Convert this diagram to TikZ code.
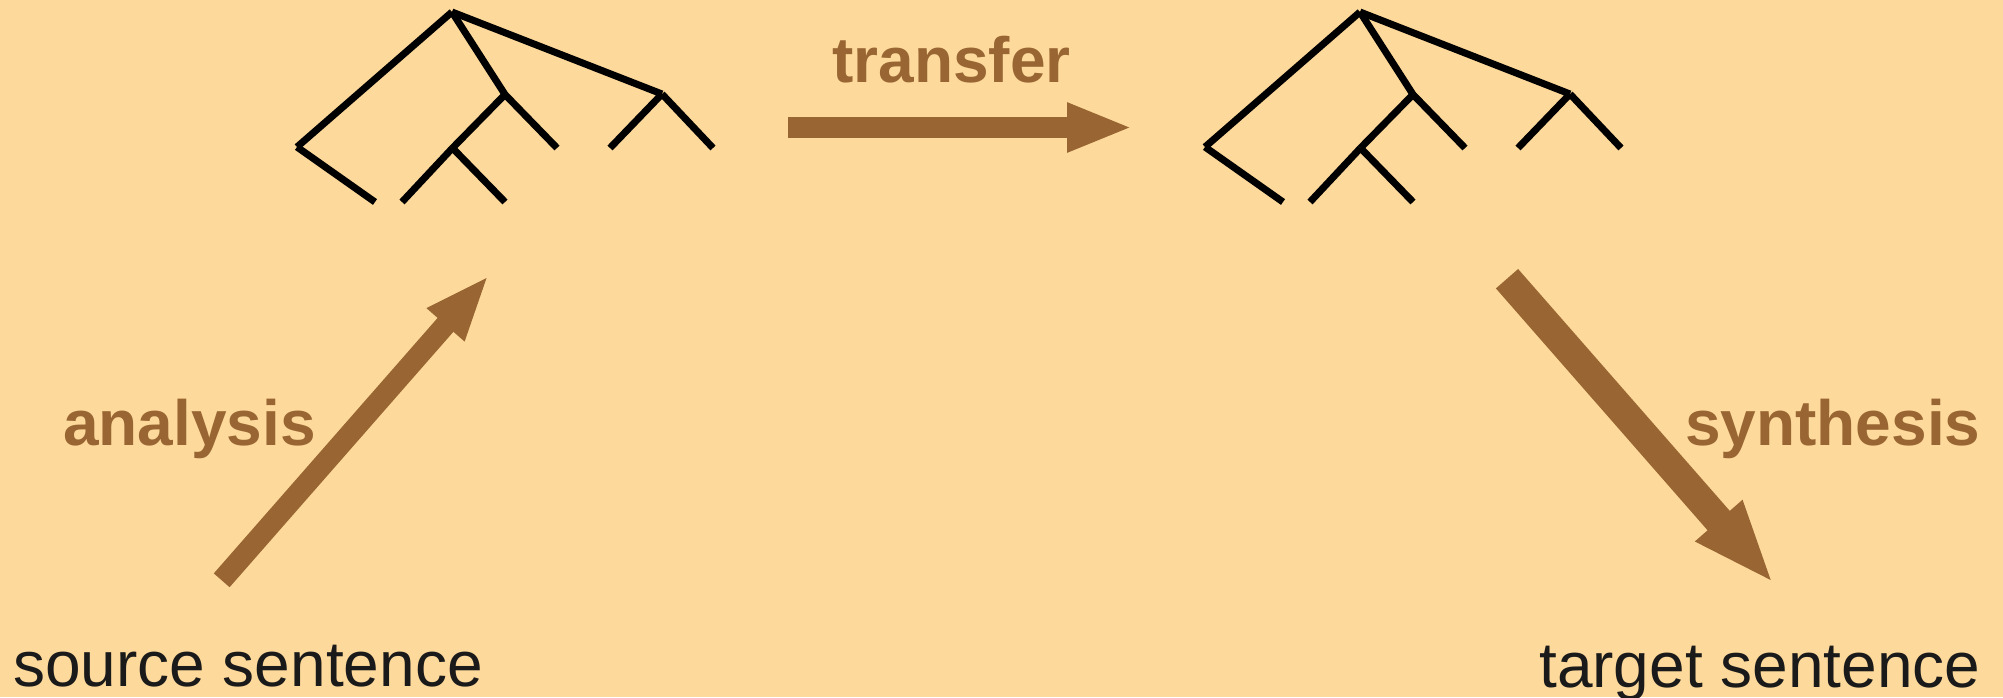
\documentclass[tikz,border=0pt]{standalone}
\usepackage{fontspec}
\setmainfont{Liberation Sans}
\usetikzlibrary{arrows.meta}
\definecolor{bg}{HTML}{FDD99B}
\definecolor{brown}{HTML}{996633}
\definecolor{ink}{HTML}{1A1A1A}
\tikzset{
  treeline/.style={draw=black, line width=7pt, line cap=butt},
  bigarrow/.style={draw=brown, line width=21pt, line cap=butt,
    -{Triangle[length=66pt, width=45pt]}},
  biggerarrow/.style={draw=brown, line width=29.5pt, line cap=butt,
    -{Triangle[length=84pt, width=56pt]}},
  sent/.style={inner sep=0pt, text=ink, font=\fontsize{64}{76}\selectfont},
  lbl/.style={inner sep=0pt, text=brown, font=\fontsize{64}{76}\selectfont\bfseries},
}
\newcommand\mktree[2]{%
  \begin{scope}[xshift=#2pt]
  \coordinate (#1r)  at (452,12);
  \coordinate (#1lc) at (297,147);
  \coordinate (#1l1) at (375,202);
  \coordinate (#1m)  at (505,94.5);
  \coordinate (#1ml) at (452.5,148);
  \coordinate (#1l2) at (402,202);
  \coordinate (#1l3) at (505,202);
  \coordinate (#1l4) at (557,148);
  \coordinate (#1rn) at (662,94);
  \coordinate (#1l5) at (610,148);
  \coordinate (#1l6) at (713,148);
  \end{scope}
  \draw[treeline] (#1r) -- (#1lc);
  \draw[treeline] (#1lc) -- (#1l1);
  \draw[treeline] (#1r) -- (#1m);
  \draw[treeline] (#1m) -- (#1ml);
  \draw[treeline] (#1ml) -- (#1l2);
  \draw[treeline] (#1ml) -- (#1l3);
  \draw[treeline] (#1m) -- (#1l4);
  \draw[treeline] (#1r) -- (#1rn);
  \draw[treeline] (#1rn) -- (#1l5);
  \draw[treeline] (#1rn) -- (#1l6);
}
\begin{document}
\begin{tikzpicture}[x=1pt, y=-1pt]
  \fill[bg] (0,0) rectangle (2003,697);
  \useasboundingbox (0,0) rectangle (2003,697);

  \mktree{a}{0}
  \mktree{b}{908}

  % arrows
  \coordinate (tfrom) at (788,127.5);
  \coordinate (tto)   at (1133,127.5);
  \coordinate (afrom) at (221.7,580.3);
  \coordinate (ato)   at (489,275.2);
  \coordinate (sfrom) at (1507,278.7);
  \coordinate (sto)   at (1774,583.8);
  \draw[bigarrow] (tfrom) -- (tto);
  \draw[bigarrow] (afrom) -- (ato);
  \draw[biggerarrow] (sfrom) -- (sto);

  % labels
  \node[lbl, anchor=base west] (transfer) at (832,82) {transfer};
  \node[lbl, anchor=base west] (analysis) at (63,445) {analysis};
  \node[lbl, anchor=base west] (synthesis) at (1685,445) {synthesis};
  \node[sent, anchor=base west] (source) at (13,686) {source sentence};
  \node[sent, anchor=base west] (target) at (1539,687) {target sentence};
\end{tikzpicture}
\end{document}
